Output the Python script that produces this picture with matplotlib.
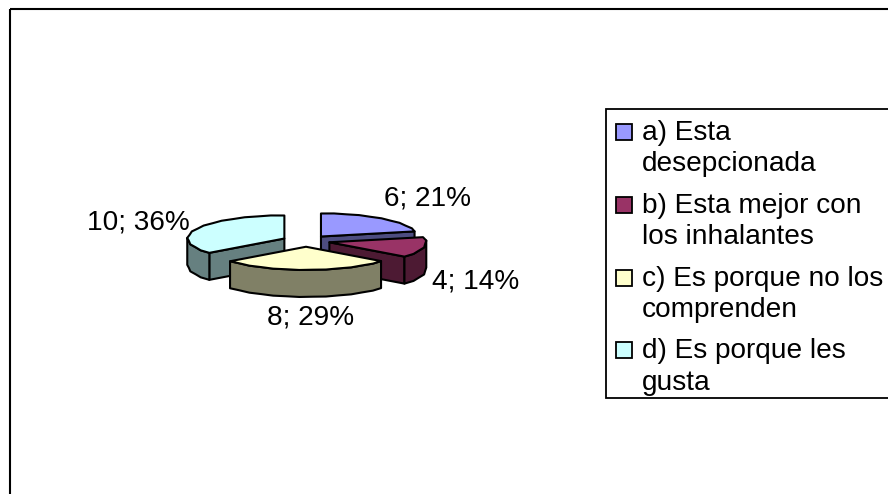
import numpy as np
import matplotlib
matplotlib.use("Agg")
import matplotlib.pyplot as plt
from matplotlib.patches import Polygon, Rectangle

categories = ["a) Esta\ndesepcionada", "b) Esta mejor con\nlos inhalantes",
              "c) Es porque no los\ncomprenden", "d) Es porque les\ngusta"]
values = [6, 4, 8, 10]
percents = [21, 14, 29, 36]
top_colors = ["#9999FF", "#993366", "#FFFFCC", "#CCFFFF"]
side_colors = ["#4D4D80", "#4D1A33", "#808066", "#668080"]
label_pos = [(427, 198), (476, 281), (311, 317), (138, 222)]

plt.rcParams["font.family"] = ["Liberation Sans", "DejaVu Sans"]
FS = 20.2
CX, CY, RX, RY, DEPTH, EXPL = 306, 241, 96, 23, 27, 24
STEP = 8  # degrees per facet, gives the reference's scalloped rim

fig = plt.figure(figsize=(8.88, 4.94), dpi=100)
ax = fig.add_axes([0, 0, 1, 1])
ax.set_xlim(0, 888)
ax.set_ylim(494, 0)
ax.axis("off")

ax.add_patch(Rectangle((9.5, 9.5), 900, 520, fill=False, ec="black", lw=1.5, zorder=0))


def pt(theta, r=1.0):
    t = np.radians(theta)
    return np.array([RX * r * np.sin(t), -RY * r * np.cos(t)])


edges = np.concatenate([[0], np.cumsum(values)]) * 360.0 / sum(values)
wedges = []
for i in range(len(values)):
    a0, a1 = edges[i], edges[i + 1]
    mid = (a0 + a1) / 2
    apex = np.array([CX, CY]) + pt(mid) * EXPL / RX
    n = max(2, int(round((a1 - a0) / STEP)) + 1)
    thetas = np.linspace(a0, a1, n)
    rim = np.array([apex + pt(t, 1.0 if k % 2 == 0 else 1.012) for k, t in enumerate(thetas)])
    wedges.append((apex, rim, thetas))

down = np.array([0, DEPTH])
LW = 1.5
wall_range = {1: (85, 360), 2: (0, 360), 3: (0, 272)}
for z, i in enumerate([0, 3, 1, 2], start=2):
    apex, rim, thetas = wedges[i]
    kw = dict(fc=side_colors[i], ec="black", lw=LW, joinstyle="round", zorder=z)
    # cut face turned toward the viewer
    if i == 3:
        ax.add_patch(Polygon([apex, rim[0], rim[0] + down, apex + down], **kw))
    if i in (0, 1):
        ax.add_patch(Polygon([apex, rim[-1], rim[-1] + down, apex + down], **kw))
    # outer wall, front part of the rim
    if i in wall_range:
        lo, hi = wall_range[i]
        front = rim[(thetas >= lo) & (thetas <= hi)]
        ax.add_patch(Polygon(np.vstack([front, (front + down)[::-1]]), **kw))
    ax.add_patch(Polygon(np.vstack([apex, rim]), fc=top_colors[i], ec="black", lw=LW,
                         joinstyle="round", zorder=z))

for v, p, xy in zip(values, percents, label_pos):
    ax.text(xy[0], xy[1], f"{v}; {p}%", ha="center", va="center", fontsize=FS, zorder=10)

# legend box, running off the right edge as in the reference
ax.add_patch(Rectangle((605.5, 108.5), 300, 289.5, fc="white", ec="black", lw=1.3, zorder=20))
ax.set_xlim(0, 888)
for i, (cat, col) in enumerate(zip(categories, top_colors)):
    base = 140 + i * 72.8
    ax.add_patch(Rectangle((615.5, base - 16), 16, 16, fc=col, ec="black", lw=1.3, zorder=21))
    for j, line in enumerate(cat.split("\n")):
        ax.text(642, base + j * 31.2, line, ha="left", va="baseline", fontsize=FS, zorder=21)

fig.savefig("out.png", dpi=100)
